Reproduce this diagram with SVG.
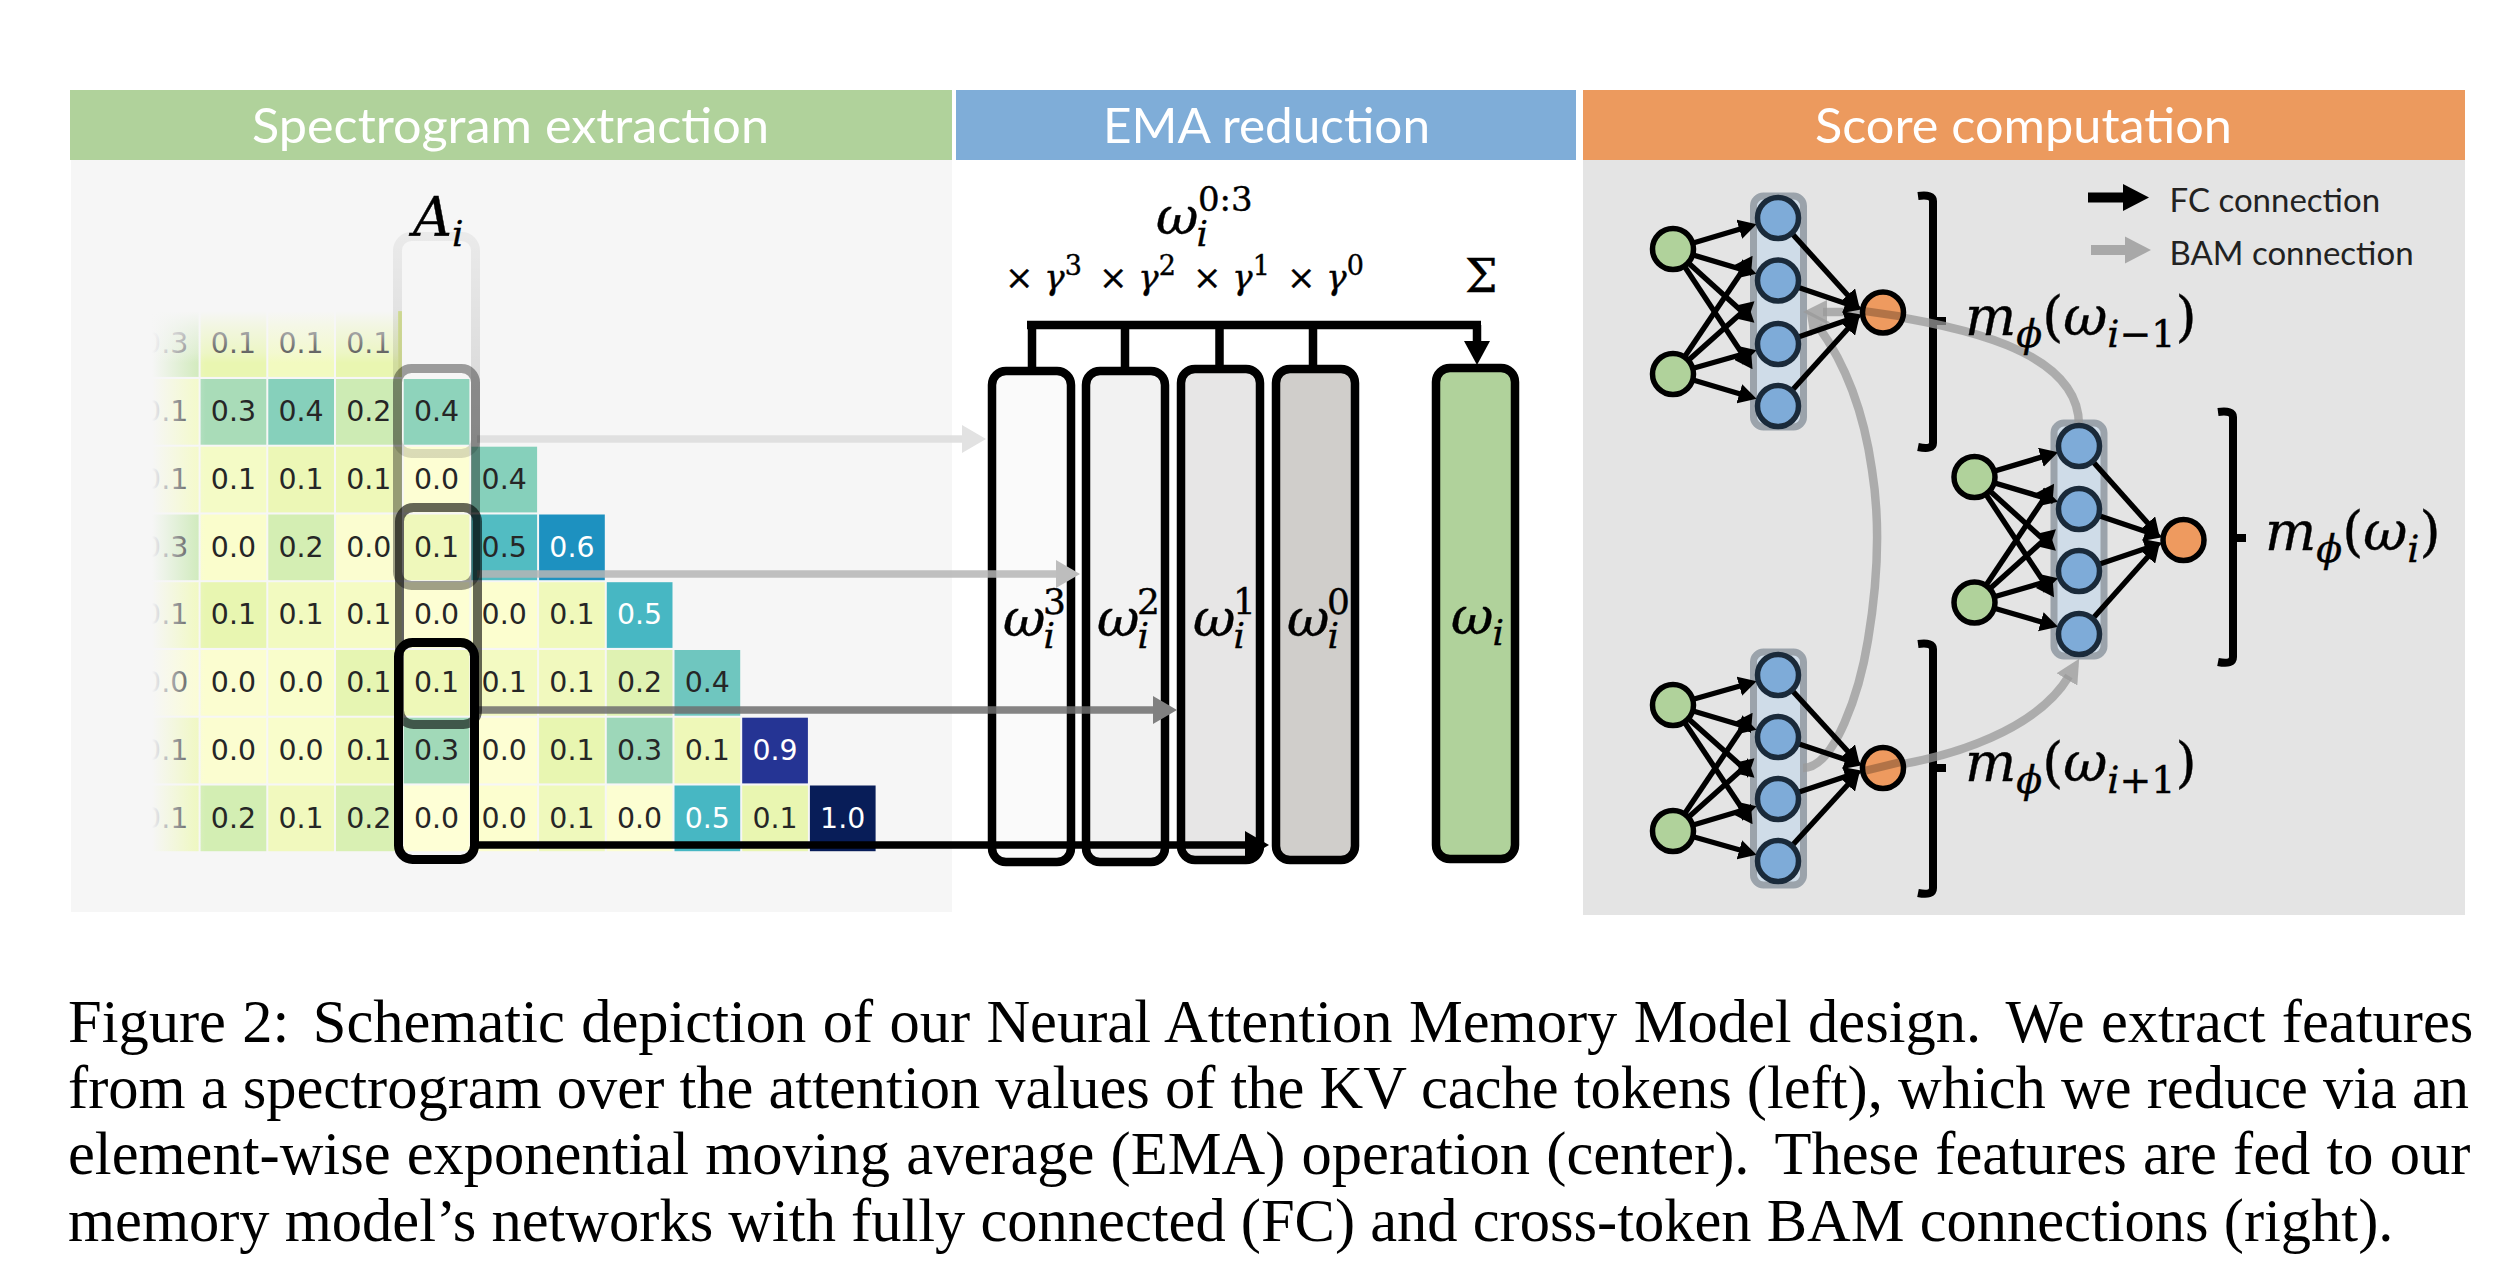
<svg xmlns="http://www.w3.org/2000/svg" width="2496" height="1282" viewBox="0 0 2496 1282">
<style>
.hd{font-family:"Lato","Open Sans",sans-serif;font-size:48px;fill:#fff}
.lg{font-family:"Lato","Open Sans",sans-serif;font-size:33px;fill:#222}
.cap{font-family:"Liberation Serif",serif;font-size:60.5px;fill:#000}
.c rect{width:65.7px;height:65.7px}
.c text{font-family:"DejaVu Sans",sans-serif;font-size:28.4px;fill:#262626;text-anchor:middle}
.c text.w{fill:#fff}
.m{font-family:"DejaVu Serif",serif;font-style:italic;fill:#000;stroke:#000;stroke-width:.4}
.u{font-style:normal}
.emab{stroke:#000;stroke-width:8.5}
.in{fill:#b0d29b;stroke:#000;stroke-width:5.5}
.hi{fill:#7eabd8;stroke:#1a2a3a;stroke-width:5.5}
.ou{fill:#ee9a5f;stroke:#000;stroke-width:5.5}
.hl{fill:#cfdce8;stroke:#9ba3ab;stroke-width:7}
.col{fill:none;stroke-width:9;stroke:#000}
.fc path{stroke:#000;stroke-width:5.4;fill:none;marker-end:url(#hs)}
.bam{stroke:#999;stroke-opacity:.75;stroke-width:8.5;fill:none}
.br{stroke:#000;stroke-width:8;fill:none}
</style>
<defs>
<marker id="hs" markerUnits="userSpaceOnUse" markerWidth="18" markerHeight="20" refX="8" refY="10" orient="auto"><path d="M0,0L18,10L0,20z" fill="#000"/></marker>
<marker id="h0" markerUnits="userSpaceOnUse" markerWidth="24" markerHeight="28" refX="4" refY="14" orient="auto"><path d="M0,0L24,14L0,28z" fill="#e2e2e2"/></marker>
<marker id="h1" markerUnits="userSpaceOnUse" markerWidth="24" markerHeight="28" refX="4" refY="14" orient="auto"><path d="M0,0L24,14L0,28z" fill="#bdbdbd"/></marker>
<marker id="h2" markerUnits="userSpaceOnUse" markerWidth="24" markerHeight="28" refX="4" refY="14" orient="auto"><path d="M0,0L24,14L0,28z" fill="#808080"/></marker>
<marker id="h3" markerUnits="userSpaceOnUse" markerWidth="24" markerHeight="28" refX="4" refY="14" orient="auto"><path d="M0,0L24,14L0,28z" fill="#000"/></marker>
<marker id="hb" markerUnits="userSpaceOnUse" markerWidth="24" markerHeight="24" refX="4" refY="12" orient="auto"><path d="M0,0L24,12L0,24z" fill="#999" fill-opacity=".75"/></marker>
<linearGradient id="fl"><stop offset="0" stop-color="#f6f6f6"/><stop offset="1" stop-color="#f6f6f6" stop-opacity="0"/></linearGradient>
<linearGradient id="ft" x1="0" y1="0" x2="0" y2="1"><stop offset="0" stop-color="#f6f6f6"/><stop offset=".3" stop-color="#f6f6f6" stop-opacity=".7"/><stop offset=".8" stop-color="#f6f6f6" stop-opacity=".3"/><stop offset="1" stop-color="#f6f6f6" stop-opacity="0"/></linearGradient>
<linearGradient id="lb" x1="0" y1="0" x2="0" y2="1"><stop offset="0" stop-color="#000" stop-opacity=".05"/><stop offset="1" stop-color="#000" stop-opacity=".14"/></linearGradient>
</defs>
<rect width="2496" height="1282" fill="#fff"/>
<g id="panels">
<rect x="71" y="160" width="881" height="752" fill="#f6f6f6"/>
<rect x="1583" y="160" width="882" height="755" fill="#e4e4e4"/>
<rect x="70" y="90" width="882" height="70" fill="#b0d29b"/>
<rect x="956" y="90" width="620" height="70" fill="#7fadd8"/>
<rect x="1583" y="90" width="882" height="70" fill="#ec9a5e"/>
<text class="hd" x="252" y="143" textLength="517" lengthAdjust="spacingAndGlyphs">Spectrogram extraction</text>
<text class="hd" x="1103" y="143" textLength="327" lengthAdjust="spacingAndGlyphs">EMA reduction</text>
<text class="hd" x="1815" y="143" textLength="417" lengthAdjust="spacingAndGlyphs">Score computation</text>
</g>
<g id="spectrogram" class="c">
<g transform="translate(0,311.2)">
<rect x="132.9" fill="#cde9b5"/><text x="165.7" y="42">0.3</text>
<rect x="200.6" fill="#e9f6b1"/><text x="233.4" y="42">0.1</text>
<rect x="268.3" fill="#f2fac0"/><text x="301.1" y="42">0.1</text>
<rect x="336" fill="#e9f6b1"/><text x="368.8" y="42">0.1</text>
<rect x="398.4" style="width:3.5px" fill="#dfea9e"/>
</g>
<g transform="translate(0,379)">
<rect x="132.9" fill="#f3fac4"/><text x="165.7" y="42">0.1</text>
<rect x="200.6" fill="#a9dcb8"/><text x="233.4" y="42">0.3</text>
<rect x="268.3" fill="#86d0bb"/><text x="301.1" y="42">0.4</text>
<rect x="336" fill="#cdebb4"/><text x="368.8" y="42">0.2</text>
<rect x="403.7" fill="#8ed3bb"/><text x="436.5" y="42">0.4</text>
</g>
<g transform="translate(0,446.7)">
<rect x="132.9" fill="#f4fac4"/><text x="165.7" y="42">0.1</text>
<rect x="200.6" fill="#f4fbc6"/><text x="233.4" y="42">0.1</text>
<rect x="268.3" fill="#ecf7b6"/><text x="301.1" y="42">0.1</text>
<rect x="336" fill="#eef8b8"/><text x="368.8" y="42">0.1</text>
<rect x="403.7" fill="#fdfed3"/><text x="436.5" y="42">0.0</text>
<rect x="471.4" fill="#86d0bb"/><text x="504.2" y="42">0.4</text>
</g>
<g transform="translate(0,514.5)">
<rect x="132.9" fill="#cbe9b5"/><text x="165.7" y="42">0.3</text>
<rect x="200.6" fill="#fafdcc"/><text x="233.4" y="42">0.0</text>
<rect x="268.3" fill="#d4eeb3"/><text x="301.1" y="42">0.2</text>
<rect x="336" fill="#fbfdd0"/><text x="368.8" y="42">0.0</text>
<rect x="403.7" fill="#eff8bb"/><text x="436.5" y="42">0.1</text>
<rect x="471.4" fill="#52bcc2"/><text x="504.2" y="42">0.5</text>
<rect x="539.1" fill="#1d91c0"/><text class="w" x="571.9" y="42">0.6</text>
</g>
<g transform="translate(0,582.2)">
<rect x="132.9" fill="#f0f9bb"/><text x="165.7" y="42">0.1</text>
<rect x="200.6" fill="#e8f6b1"/><text x="233.4" y="42">0.1</text>
<rect x="268.3" fill="#f2fac0"/><text x="301.1" y="42">0.1</text>
<rect x="336" fill="#f5fbc4"/><text x="368.8" y="42">0.1</text>
<rect x="403.7" fill="#fdfed3"/><text x="436.5" y="42">0.0</text>
<rect x="471.4" fill="#fcfecf"/><text x="504.2" y="42">0.0</text>
<rect x="539.1" fill="#f0f9bb"/><text x="571.9" y="42">0.1</text>
<rect x="606.8" fill="#47b7c3"/><text class="w" x="639.6" y="42">0.5</text>
</g>
<g transform="translate(0,650)">
<rect x="132.9" fill="#fbfdd0"/><text x="165.7" y="42">0.0</text>
<rect x="200.6" fill="#fbfdd0"/><text x="233.4" y="42">0.0</text>
<rect x="268.3" fill="#f9fdcb"/><text x="301.1" y="42">0.0</text>
<rect x="336" fill="#e6f5b2"/><text x="368.8" y="42">0.1</text>
<rect x="403.7" fill="#eef8b8"/><text x="436.5" y="42">0.1</text>
<rect x="471.4" fill="#f3fac2"/><text x="504.2" y="42">0.1</text>
<rect x="539.1" fill="#f1f9be"/><text x="571.9" y="42">0.1</text>
<rect x="606.8" fill="#dff2b2"/><text x="639.6" y="42">0.2</text>
<rect x="674.5" fill="#6fc6bf"/><text x="707.3" y="42">0.4</text>
</g>
<g transform="translate(0,717.7)">
<rect x="132.9" fill="#eff8bb"/><text x="165.7" y="42">0.1</text>
<rect x="200.6" fill="#fbfdd0"/><text x="233.4" y="42">0.0</text>
<rect x="268.3" fill="#f9fdcb"/><text x="301.1" y="42">0.0</text>
<rect x="336" fill="#eef8b8"/><text x="368.8" y="42">0.1</text>
<rect x="403.7" fill="#a1d9b8"/><text x="436.5" y="42">0.3</text>
<rect x="471.4" fill="#fdfed3"/><text x="504.2" y="42">0.0</text>
<rect x="539.1" fill="#e8f6b1"/><text x="571.9" y="42">0.1</text>
<rect x="606.8" fill="#9dd7b9"/><text x="639.6" y="42">0.3</text>
<rect x="674.5" fill="#eef8b8"/><text x="707.3" y="42">0.1</text>
<rect x="742.2" fill="#253494"/><text class="w" x="775" y="42">0.9</text>
</g>
<g transform="translate(0,785.5)">
<rect x="132.9" fill="#edf8b8"/><text x="165.7" y="42">0.1</text>
<rect x="200.6" fill="#d3eeb3"/><text x="233.4" y="42">0.2</text>
<rect x="268.3" fill="#f1f9be"/><text x="301.1" y="42">0.1</text>
<rect x="336" fill="#d9f0b3"/><text x="368.8" y="42">0.2</text>
<rect x="403.7" fill="#feffd6"/><text x="436.5" y="42">0.0</text>
<rect x="471.4" fill="#fcfecf"/><text x="504.2" y="42">0.0</text>
<rect x="539.1" fill="#eff9bc"/><text x="571.9" y="42">0.1</text>
<rect x="606.8" fill="#fcfed2"/><text x="639.6" y="42">0.0</text>
<rect x="674.5" fill="#47b7c3"/><text class="w" x="707.3" y="42">0.5</text>
<rect x="742.2" fill="#e9f6b1"/><text x="775" y="42">0.1</text>
<rect x="809.9" fill="#081d58"/><text class="w" x="842.7" y="42">1.0</text>
</g>
</g>
<g id="fade">
<rect x="100" y="300" width="52" height="560" fill="#f6f6f6"/>
<rect x="152" y="300" width="54" height="560" fill="url(#fl)"/>
<rect x="152" y="311" width="246" height="52" fill="url(#ft)"/>
</g>
<g id="A_i"><text class="m" x="413" y="236" font-size="54">A<tspan font-size="36" dy="10">i</tspan></text></g>
<g id="ema-3"><rect class="emab" x="992" y="371" width="79" height="491" rx="14" fill="#fafafa"/><text class="m" x="1003" y="636" font-size="52">ω<tspan font-size="36" dx="-2" dy="12">i</tspan><tspan class="u" font-size="36" dx="-12" dy="-34">3</tspan></text></g>
<g id="ema-2"><rect class="emab" x="1086" y="371" width="79" height="491" rx="14" fill="#f2f2f2"/><text class="m" x="1097" y="636" font-size="52">ω<tspan font-size="36" dx="-2" dy="12">i</tspan><tspan class="u" font-size="36" dx="-12" dy="-34">2</tspan></text></g>
<g id="ema-1"><rect class="emab" x="1181" y="369" width="79" height="491" rx="14" fill="#e7e6e6"/><text class="m" x="1193" y="636" font-size="52">ω<tspan font-size="36" dx="-2" dy="12">i</tspan><tspan class="u" font-size="36" dx="-12" dy="-34">1</tspan></text></g>
<g id="ema-0"><rect class="emab" x="1276" y="369" width="79" height="491" rx="14" fill="#d0cecb"/><text class="m" x="1287" y="636" font-size="52">ω<tspan font-size="36" dx="-2" dy="12">i</tspan><tspan class="u" font-size="36" dx="-12" dy="-34">0</tspan></text></g>
<g id="ema-sum"><rect class="emab" x="1436" y="368" width="79" height="491" rx="14" fill="#b0d29b"/><text class="m" x="1451" y="634" font-size="52">ω<tspan font-size="36" dx="-1" dy="11">i</tspan></text></g>
<g id="ema-labels">
<text class="m" x="1156" y="234" font-size="52">ω<tspan font-size="36" dx="-2" dy="12">i</tspan><tspan class="u" font-size="34" dx="-10" dy="-35">0:3</tspan></text>
<text class="m" x="1005" y="289" font-size="34"><tspan class="u">×</tspan> γ<tspan class="u" font-size="27" dy="-14">3</tspan></text>
<text class="m" x="1099" y="289" font-size="34"><tspan class="u">×</tspan> γ<tspan class="u" font-size="27" dy="-14">2</tspan></text>
<text class="m" x="1193" y="289" font-size="34"><tspan class="u">×</tspan> γ<tspan class="u" font-size="27" dy="-14">1</tspan></text>
<text class="m" x="1287" y="289" font-size="34"><tspan class="u">×</tspan> γ<tspan class="u" font-size="27" dy="-14">0</tspan></text>
<text class="m u" x="1465" y="292" font-size="46">Σ</text>
</g>
<g id="brackets">
<path class="br" d="M1918,196Q1933,194 1933,201V443Q1933,450 1918,447"/><path class="br" d="M1936,321H1946"/>
<path class="br" d="M1918,644Q1933,642 1933,649V888Q1933,896 1918,893"/><path class="br" d="M1936,768H1946"/>
<path class="br" d="M2218,412Q2233,410 2233,417V657Q2233,665 2218,662"/><path class="br" d="M2236,538H2246"/>
</g>
<g id="highlights">
<rect class="hl" x="1753.5" y="196" width="50" height="231" rx="10"/>
<rect class="hl" x="1753.5" y="652" width="50" height="233" rx="10"/>
<rect class="hl" x="2054" y="423" width="50" height="233" rx="10"/>
</g>
<g id="connectors">
<path class="bam" d="M1803,768C1835,768 1860,690 1868,640C1878,580 1880,520 1872,470C1865,420 1850,370 1818,326" marker-end="url(#hb)"/>
<path class="bam" d="M1860,312H1823" marker-end="url(#hb)"/>
<path class="bam" d="M1860,311C1960,325 2079,350 2079,425"/>
<path class="bam" d="M1860,770C1960,760 2040,725 2069,676" marker-end="url(#hb)"/>
<g id="fc-a" class="fc">
<path d="M1673,249L1747,227"/><path d="M1673,249L1747,271"/><path d="M1673,249L1747,316"/><path d="M1673,249L1747,361"/>
<path d="M1673,374L1747,264"/><path d="M1673,374L1747,308"/><path d="M1673,374L1747,353"/><path d="M1673,374L1747,396"/>
<path d="M1778,218L1853,301"/><path d="M1778,280.5L1853,306"/><path d="M1778,344L1853,318"/><path d="M1778,406L1853,323"/>
</g>
<g id="fc-b" class="fc">
<path d="M1673,705L1747,684"/><path d="M1673,705L1747,727"/><path d="M1673,705L1747,771"/><path d="M1673,705L1747,816"/>
<path d="M1673,831L1747,721"/><path d="M1673,831L1747,765"/><path d="M1673,831L1747,809"/><path d="M1673,831L1747,852"/>
<path d="M1778,675L1853,757"/><path d="M1778,737L1853,762"/><path d="M1778,799L1853,774"/><path d="M1778,861L1853,779"/>
</g>
<g id="fc-c" class="fc">
<path d="M1974.5,477L2048.5,455"/><path d="M1974.5,477L2048.5,499"/><path d="M1974.5,477L2048.5,544"/><path d="M1974.5,477L2048.5,589"/>
<path d="M1974.5,602.5L2048.5,492"/><path d="M1974.5,602.5L2048.5,536"/><path d="M1974.5,602.5L2048.5,581"/><path d="M1974.5,602.5L2048.5,624"/>
<path d="M2079,446L2153,529"/><path d="M2079,509L2153,534"/><path d="M2079,571L2153,546"/><path d="M2079,634L2153,551"/>
</g>
<g id="feature-arrows">
<path d="M477,439H966" stroke="#dcdcdc" stroke-opacity=".85" stroke-width="7.6" fill="none" marker-end="url(#h0)"/>
<path d="M477,574H1060" stroke="#b5b5b5" stroke-opacity=".85" stroke-width="7.6" fill="none" marker-end="url(#h1)"/>
<path d="M477,710H1157" stroke="#6e6e6e" stroke-opacity=".85" stroke-width="7.6" fill="none" marker-end="url(#h2)"/>
<path d="M477,845H1249" stroke="#000" stroke-width="7.6" fill="none" marker-end="url(#h3)"/>
</g>
<path d="M1027,325H1481" stroke="#000" stroke-width="8.5" fill="none"/>
<path d="M1032,325V367M1125,325V367M1219.5,325V365M1313,325V365" stroke="#000" stroke-width="8.5" fill="none"/>
<path d="M1477,325V345" stroke="#000" stroke-width="8.5" fill="none"/>
<path d="M1464,341H1490L1477,365z" fill="#000"/>
</g>
<g id="column-boxes">
<rect x="397.5" y="236.5" width="78" height="217" rx="14" fill="none" stroke="url(#lb)" stroke-width="9"/>
<rect class="col" x="397.5" y="368.5" width="78" height="217" rx="14" opacity=".37"/>
<rect class="col" x="399.5" y="507.5" width="78" height="217" rx="14" opacity=".6"/>
<rect class="col" x="398.5" y="642.5" width="76" height="217" rx="14"/>
</g>
<g id="net-a">
<circle class="in" cx="1673" cy="249" r="20.5"/><circle class="in" cx="1673" cy="374" r="20.5"/>
<circle class="hi" cx="1778" cy="218" r="20.5"/><circle class="hi" cx="1778" cy="280.5" r="20.5"/><circle class="hi" cx="1778" cy="344" r="20.5"/><circle class="hi" cx="1778" cy="406" r="20.5"/>
<circle class="ou" cx="1883" cy="312.5" r="20.5"/>
</g>
<g id="net-b">
<circle class="in" cx="1673" cy="705" r="20.5"/><circle class="in" cx="1673" cy="831" r="20.5"/>
<circle class="hi" cx="1778" cy="675" r="20.5"/><circle class="hi" cx="1778" cy="737" r="20.5"/><circle class="hi" cx="1778" cy="799" r="20.5"/><circle class="hi" cx="1778" cy="861" r="20.5"/>
<circle class="ou" cx="1883" cy="768" r="20.5"/>
</g>
<g id="net-c">
<circle class="in" cx="1974.5" cy="477" r="20.5"/><circle class="in" cx="1974.5" cy="602.5" r="20.5"/>
<circle class="hi" cx="2079" cy="446" r="20.5"/><circle class="hi" cx="2079" cy="509" r="20.5"/><circle class="hi" cx="2079" cy="571" r="20.5"/><circle class="hi" cx="2079" cy="634" r="20.5"/>
<circle class="ou" cx="2183.5" cy="540" r="20.5"/>
</g>
<g id="bam-overlay">
<path d="M1864,311L1905,317" stroke="#000" stroke-opacity=".25" stroke-width="8" fill="none"/>
<path d="M1864,771L1905,761" stroke="#000" stroke-opacity=".25" stroke-width="8" fill="none"/>
</g>
<g id="net-labels">
<text class="m" x="1965" y="335" font-size="54">m<tspan font-size="38" dy="12">ϕ</tspan><tspan class="u" dy="-12">(</tspan>ω<tspan font-size="38" dy="12">i<tspan class="u">−1</tspan></tspan><tspan class="u" dy="-12">)</tspan></text>
<text class="m" x="2265" y="550" font-size="54">m<tspan font-size="38" dy="12">ϕ</tspan><tspan class="u" dy="-12">(</tspan>ω<tspan font-size="38" dy="12">i</tspan><tspan class="u" dy="-12">)</tspan></text>
<text class="m" x="1965" y="781" font-size="54">m<tspan font-size="38" dy="12">ϕ</tspan><tspan class="u" dy="-12">(</tspan>ω<tspan font-size="38" dy="12">i<tspan class="u">+1</tspan></tspan><tspan class="u" dy="-12">)</tspan></text>
</g>
<g id="legend">
<path d="M2088,197.5H2126" stroke="#000" stroke-width="10" fill="none"/><path d="M2123,184L2149,197.5L2123,211z" fill="#000"/>
<path d="M2091,250H2128" stroke="#a8a8a8" stroke-width="10" fill="none"/><path d="M2125,236.5L2151,250L2125,263.5z" fill="#a8a8a8"/>
<text class="lg" x="2169.5" y="212">FC connection</text>
<text class="lg" x="2169.5" y="265">BAM connection</text>
</g>
<g id="caption">
<text class="cap" x="68" y="1041.5" word-spacing="1.25">Figure 2: <tspan dx="7">Schematic depiction of our Neural Attention Memory Model design. </tspan><tspan dx="9">We extract features</tspan></text>
<text class="cap" x="68" y="1107.5">from a spectrogram over the attention values of the KV cache tokens (left), which we reduce via an</text>
<text class="cap" x="68" y="1174" word-spacing="1.1">element-wise exponential moving average (EMA) operation (center). <tspan dx="10">These features are fed to our</tspan></text>
<text class="cap" x="68" y="1240.5">memory model’s networks with fully connected (FC) and cross-token BAM connections (right).</text>
</g>
</svg>
